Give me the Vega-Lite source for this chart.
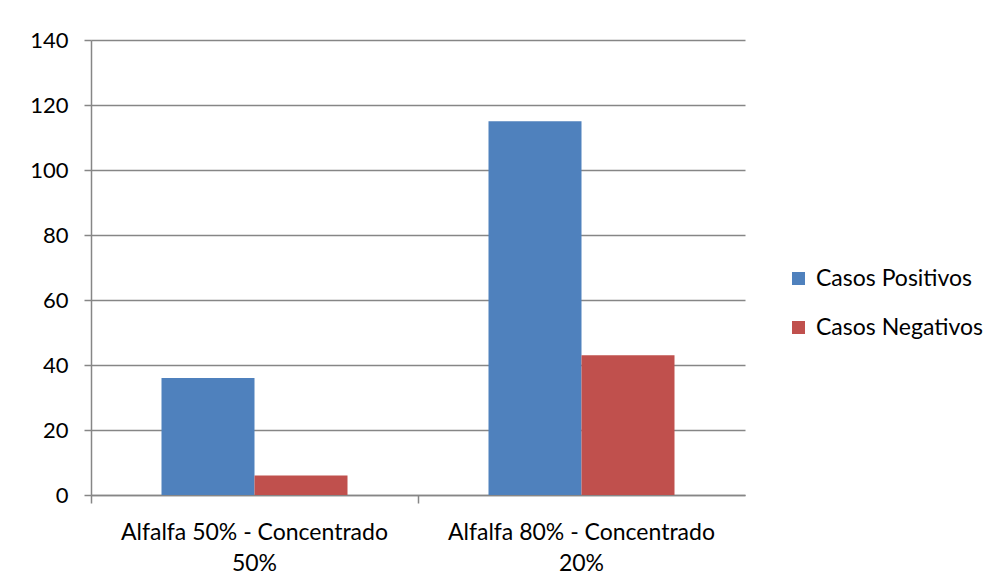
{
  "$schema": "https://vega.github.io/schema/vega-lite/v6.json",
  "width": 654,
  "height": 455,
  "autosize": {"type": "none"},
  "padding": {"left": 91, "top": 40, "right": 252, "bottom": 92},
  "background": "white",
  "config": {
    "view": {"stroke": null},
    "font": "Lato",
    "axis": {"labelFont": "Lato", "labelColor": "#000000", "labelFontSize": 22, "labelLimit": 400, "domainColor": "#868686", "tickColor": "#868686", "gridColor": "#868686", "titleFont": "Lato"},
    "legend": {"labelFont": "Lato", "labelLimit": 300}
  },
  "data": {
    "values": [
      {"grupo": "Alfalfa 50% - Concentrado 50%", "serie": "Casos Positivos", "valor": 36},
      {"grupo": "Alfalfa 50% - Concentrado 50%", "serie": "Casos Negativos", "valor": 6},
      {"grupo": "Alfalfa 80% - Concentrado 20%", "serie": "Casos Positivos", "valor": 115},
      {"grupo": "Alfalfa 80% - Concentrado 20%", "serie": "Casos Negativos", "valor": 43}
    ]
  },
  "mark": {"type": "bar"},
  "encoding": {
    "x": {
      "field": "grupo",
      "type": "nominal",
      "sort": null,
      "scale": {"paddingInner": 0, "paddingOuter": 0},
      "axis": {
        "title": null,
        "labelAngle": 0,
        "bandPosition": 0,
        "tickSize": 8,
        "labelPadding": 18,
        "labelFontSize": 23,
        "labelLineHeight": 31,
        "labelExpr": "[slice(datum.label, 0, 25), slice(datum.label, 26)]",
        "domainWidth": 1.5,
        "tickWidth": 1.5
      }
    },
    "xOffset": {
      "field": "serie",
      "type": "nominal",
      "sort": ["Casos Positivos", "Casos Negativos"],
      "scale": {"paddingInner": 0, "paddingOuter": 0.758}
    },
    "y": {
      "field": "valor",
      "type": "quantitative",
      "scale": {"domain": [0, 140], "nice": false},
      "axis": {
        "title": null,
        "values": [0, 20, 40, 60, 80, 100, 120, 140],
        "tickSize": 7,
        "labelPadding": 16,
        "gridWidth": 1.5,
        "domainWidth": 1.5,
        "tickWidth": 1.5
      }
    },
    "color": {
      "field": "serie",
      "type": "nominal",
      "sort": ["Casos Positivos", "Casos Negativos"],
      "scale": {"domain": ["Casos Positivos", "Casos Negativos"], "range": ["#4F81BD", "#C0504D"]},
      "legend": {
        "title": null,
        "orient": "none",
        "legendX": 696,
        "legendY": 227,
        "symbolType": "square",
        "symbolSize": 170,
        "symbolStrokeWidth": 0,
        "labelFontSize": 23,
        "labelColor": "#000000",
        "rowPadding": 25,
        "labelOffset": 6
      }
    }
  }
}
